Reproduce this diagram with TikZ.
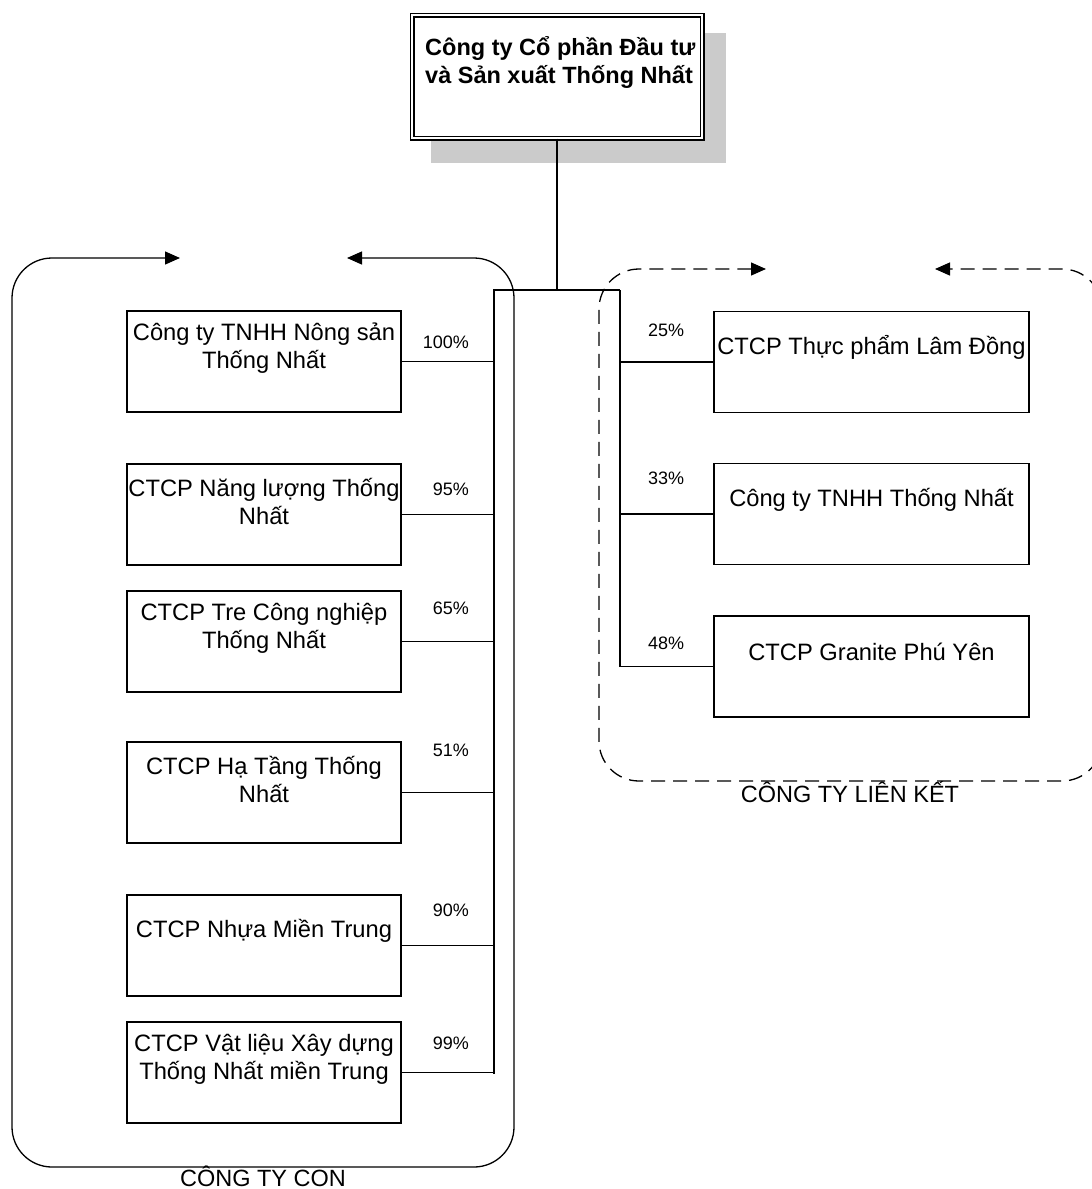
\documentclass[tikz,border=0pt]{standalone}
\usepackage{fontspec}
\setmainfont{Liberation Sans}
\usetikzlibrary{arrows.meta}
\definecolor{shadowgray}{HTML}{CBCBCB}
\begin{document}
\begin{tikzpicture}[x=1pt,y=-1pt,
  lbox/.style={draw,line width=1.3pt,minimum width=274pt,minimum height=101pt,inner sep=0pt},
  rbox/.style={draw,line width=1.3pt,minimum width=315pt,minimum height=101pt,inner sep=0pt},
  boxtext/.style={inner sep=0pt,align=center,font=\fontsize{23.7pt}{28pt}\selectfont},
  pct/.style={inner sep=0pt,font=\fontsize{18pt}{21pt}\selectfont},
  grouplabel/.style={inner sep=0pt,font=\fontsize{23.5pt}{28pt}\selectfont},
  thickline/.style={line width=2.2pt},
  thinline/.style={line width=1.1pt},
]
\clip (0,0) rectangle (1092,1189);
% group frames
\draw[line width=1.3pt,rounded corners=40pt,{Triangle[length=15pt,width=13pt]}-{Triangle[length=15pt,width=13pt]}]
  (180,258) -- (12,258) -- (12,1167) -- (514,1167) -- (514,258) -- (347,258);
\draw[line width=1.3pt,dash pattern=on 14pt off 8pt,rounded corners=40pt,{Triangle[length=15pt,width=13pt]}-{Triangle[length=15pt,width=13pt]}]
  (766,269) -- (599,269) -- (599,781) -- (1102,781) -- (1102,269) -- (935,269);
% top box
\fill[shadowgray] (431,33) rectangle (726,163);
\node[draw,fill=white,line width=1.2pt,double,double distance=2.6pt,minimum width=290pt,minimum height=123pt,inner sep=0pt] (top) at (557,76.5) {};
\node[inner sep=0pt,anchor=north west,align=left,font=\bfseries\fontsize{23.5pt}{28pt}\selectfont] (toptext) at (425,36) {Công ty Cổ phần Đầu tư\\và Sản xuất Thống Nhất};
% junction
\coordinate (jC) at (557,290);
\coordinate (jL) at (494,290);
\coordinate (jR) at (620,290);
% left boxes
\node[lbox] (l1) at (264,361.5) {};
\node[lbox] (l2) at (264,514.5) {};
\node[lbox] (l3) at (264,641.5) {};
\node[lbox] (l4) at (264,792.5) {};
\node[lbox] (l5) at (264,945.5) {};
\node[lbox] (l6) at (264,1072.5) {};
\node[boxtext] (t1) at ([yshift=13pt]l1.center) {Công ty TNHH Nông sản\\Thống Nhất};
\node[boxtext] (t2) at ([yshift=13pt]l2.center) {CTCP Năng lượng Thống\\Nhất};
\node[boxtext] (t3) at ([yshift=13pt]l3.center) {CTCP Tre Công nghiệp\\Thống Nhất};
\node[boxtext] (t4) at ([yshift=13pt]l4.center) {CTCP Hạ Tầng Thống\\Nhất};
\node[boxtext] (t5) at ([yshift=14.5pt]l5.center) {CTCP Nhựa Miền Trung};
\node[boxtext] (t6) at ([yshift=13pt]l6.center) {CTCP Vật liệu Xây dựng\\Thống Nhất miền Trung};
% right boxes
\node[rbox] (r1) at (871.5,362) {};
\node[rbox] (r2) at (871.5,514) {};
\node[rbox] (r3) at (871.5,666.5) {};
\node[boxtext] (u1) at ([yshift=14.5pt]r1.center) {CTCP Thực phẩm Lâm Đồng};
\node[boxtext] (u2) at ([yshift=14.5pt]r2.center) {Công ty TNHH Thống Nhất};
\node[boxtext] (u3) at ([yshift=14.5pt]r3.center) {CTCP Granite Phú Yên};
% connectors
\draw[thickline] (top.south) -- (jC);
\draw[thickline] (jL) -- (jR);
\draw[thickline,line cap=rect] (jL) -- (jL |- l6.east);
\draw[thickline] (jR) -- (jR |- r3.west);
\foreach \b in {l1,l2,l3,l4,l5,l6} \draw[thinline] (\b.east) -- (jL |- \b.east);
\foreach \b in {r1,r2,r3} \draw[thinline] (\b.west) -- (jR |- \b.west);
% percentages
\node[pct,anchor=east] (p1) at (469,342) {100\%};
\node[pct,anchor=east] (p2) at (469,489) {95\%};
\node[pct,anchor=east] (p3) at (469,608) {65\%};
\node[pct,anchor=east] (p4) at (469,750) {51\%};
\node[pct,anchor=east] (p5) at (469,910) {90\%};
\node[pct,anchor=east] (p6) at (469,1043) {99\%};
\node[pct,anchor=west] (q1) at (648,330) {25\%};
\node[pct,anchor=west] (q2) at (648,478) {33\%};
\node[pct,anchor=west] (q3) at (648,643) {48\%};
% group labels
\node[grouplabel,anchor=base] (gcon) at (263,1186) {CÔNG TY CON};
\node[grouplabel,anchor=base] (glk) at (850,802) {CÔNG TY LIÊN KẾT};
\end{tikzpicture}
\end{document}
